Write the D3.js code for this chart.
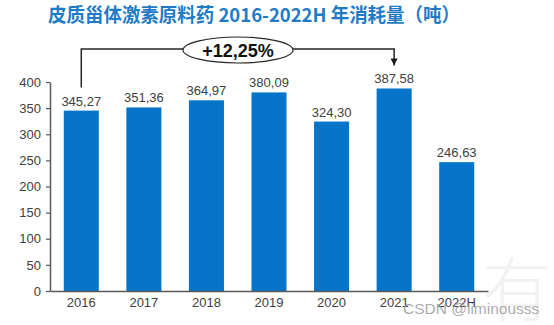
<!DOCTYPE html>
<html>
<head>
<meta charset="utf-8">
<script src="https://cdn.jsdelivr.net/npm/d3@7"></script>
<style>
  html, body { margin: 0; padding: 0; background: #fff; }
  svg { display: block; }
</style>
</head>
<body>
<svg id="chart" width="554" height="325"></svg>
<script>
// Annual consumption of corticosteroid APIs (tonnes)
const years = ["2016", "2017", "2018", "2019", "2020", "2021", "2022H"];
const consumption = [345.27, 351.36, 364.97, 380.09, 324.30, 387.58, 246.63];
const yTicks = [0, 50, 100, 150, 200, 250, 300, 350, 400];
const titleText = "皮质甾体激素原料药 2016-2022H 年消耗量（吨）";
const growthLabel = "+12,25%";
const growthFrom = "2016";
const growthTo = "2021";

const svg = d3.select("#chart");
const fmt = v => v.toFixed(2).replace(".", ",");

const x = d3.scaleBand().domain(years).range([50, 488]).paddingInner(0.44).paddingOuter(0.22);
const y = d3.scaleLinear().domain([0, 400]).range([291, 82]);

// faint background watermark glyph
svg.append("text")
  .attr("x", 482).attr("y", 316)
  .attr("font-family", "Noto Sans CJK SC")
  .attr("font-weight", 300)
  .attr("font-size", 70)
  .attr("fill", "#f2f2f2")
  .text("有");

// title
svg.append("text")
  .attr("x", 48).attr("y", 22)
  .attr("textLength", 412)
  .attr("lengthAdjust", "spacingAndGlyphs")
  .attr("font-family", "'Noto Sans CJK SC', 'Liberation Serif', serif")
  .attr("font-weight", "bold")
  .attr("font-size", 19)
  .attr("fill", "#1f7bc6")
  .text(titleText);

// bars
svg.append("g").selectAll("rect")
  .data(years)
  .join("rect")
  .attr("x", d => x(d))
  .attr("width", x.bandwidth())
  .attr("y", (d, i) => y(consumption[i]))
  .attr("height", (d, i) => y(0) - y(consumption[i]))
  .attr("fill", "#0675c9");

// value labels
svg.append("g").selectAll("text")
  .data(years)
  .join("text")
  .attr("x", d => x(d) + x.bandwidth() / 2)
  .attr("y", (d, i) => y(consumption[i]) - 5)
  .attr("text-anchor", "middle")
  .attr("font-family", "'Liberation Sans', Arial, sans-serif")
  .attr("font-size", 13)
  .attr("fill", "#404040")
  .text((d, i) => fmt(consumption[i]));

// y axis
const yAxis = svg.append("g")
  .attr("transform", "translate(50,0)")
  .call(d3.axisLeft(y).tickValues(yTicks).tickSize(4).tickSizeOuter(0).tickPadding(5));
yAxis.select(".domain").attr("stroke", "#595959").attr("stroke-width", 1.5);
yAxis.selectAll(".tick line").attr("stroke", "#595959").attr("stroke-width", 1.2);
yAxis.selectAll(".tick text")
  .attr("font-family", "'Liberation Sans', Arial, sans-serif")
  .attr("font-size", 13)
  .attr("fill", "#404040");

// x axis
const xAxis = svg.append("g")
  .attr("transform", "translate(0,291)")
  .call(d3.axisBottom(x).tickSize(0).tickSizeOuter(0).tickPadding(7));
xAxis.select(".domain").attr("stroke", "#595959").attr("stroke-width", 1.5);
xAxis.selectAll(".tick text")
  .attr("font-family", "'Liberation Sans', Arial, sans-serif")
  .attr("font-size", 13)
  .attr("fill", "#404040");

// growth bracket 2016 -> 2021
const iFrom = years.indexOf(growthFrom), iTo = years.indexOf(growthTo);
const x0 = x(growthFrom) + x.bandwidth() / 2;
const x1 = x(growthTo) + x.bandwidth() / 2;
const yTop = 49;
const yStart = y(consumption[iFrom]) - 23;
const yEnd = y(consumption[iTo]) - 23;
svg.append("defs").append("marker")
  .attr("id", "arrow")
  .attr("viewBox", "0 0 10 10")
  .attr("refX", 10).attr("refY", 5)
  .attr("markerWidth", 7).attr("markerHeight", 7)
  .attr("markerUnits", "userSpaceOnUse")
  .attr("orient", "auto")
  .append("path").attr("d", "M0,0 L10,5 L0,10 Z").attr("fill", "#1a1a1a");

svg.append("path")
  .attr("d", `M${x0},${yStart} V${yTop} H${x1} V${yEnd}`)
  .attr("fill", "none")
  .attr("stroke", "#262626")
  .attr("stroke-width", 1.5)
  .attr("marker-end", "url(#arrow)");

const cx = 238;
svg.append("ellipse")
  .attr("cx", cx).attr("cy", 50)
  .attr("rx", 55).attr("ry", 13)
  .attr("fill", "#fff")
  .attr("stroke", "#262626")
  .attr("stroke-width", 1.2);
svg.append("text")
  .attr("x", cx).attr("y", 57)
  .attr("text-anchor", "middle")
  .attr("font-family", "'Liberation Sans', Arial, sans-serif")
  .attr("font-weight", "bold")
  .attr("font-size", 18)
  .attr("fill", "#111")
  .text(growthLabel);

// site watermark
svg.append("text")
  .attr("x", 403).attr("y", 314)
  .attr("font-family", "'Liberation Sans', Arial, sans-serif")
  .attr("font-size", 15.5)
  .attr("fill", "#9a9a9a")
  .attr("fill-opacity", 0.85)
  .text("CSDN @liminousss");
</script>
</body>
</html>
